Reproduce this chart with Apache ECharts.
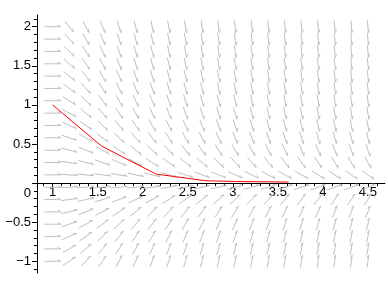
<!DOCTYPE html>
<html><head><meta charset="utf-8">
<script src="https://cdn.jsdelivr.net/npm/echarts@6/dist/echarts.min.js"></script>
<style>html,body{margin:0;padding:0;background:#fff}#c{width:388px;height:288px}</style>
</head><body><div id="c"></div>
<script>
// direction field grid
const fieldX = [1.000,1.184,1.368,1.553,1.737,1.921,2.105,2.289,2.474,2.658,2.842,3.026,3.211,3.395,3.579,3.763,3.947,4.132,4.316,4.500];
const fieldY = [-1.000,-0.842,-0.684,-0.526,-0.368,-0.211,-0.053,0.105,0.263,0.421,0.579,0.737,0.895,1.053,1.211,1.368,1.526,1.684,1.842,2.000];
// arrow angle on screen in degrees (positive = pointing up-right), one row per fieldY value
const fieldAngle = [
  [0,32,45,54,60,64,68,71,73,74,76,77,78,79,80,80,81,81,82,82],
  [0,28,40,49,55,60,64,67,70,72,73,75,76,77,78,78,79,80,80,81],
  [0,23,34,43,50,55,59,63,65,68,70,71,73,74,75,76,77,77,78,79],
  [0,18,28,36,42,48,52,56,59,62,64,66,68,69,71,72,73,74,75,75],
  [0,13,20,27,32,38,42,46,50,53,55,58,60,62,63,65,66,67,68,69],
  [0,7,12,16,20,24,27,31,34,37,40,42,45,47,49,51,52,54,55,57],
  [0,2,3,4,5,6,7,9,10,11,12,13,14,15,16,17,18,19,20,21],
  [0,-4,-6,-8,-10,-12,-14,-17,-19,-21,-22,-24,-26,-28,-30,-31,-33,-34,-36,-37],
  [0,-9,-15,-20,-24,-29,-33,-37,-40,-43,-46,-49,-51,-53,-55,-57,-58,-60,-61,-62],
  [0,-15,-23,-30,-36,-41,-46,-50,-53,-56,-59,-61,-63,-65,-66,-68,-69,-70,-71,-72],
  [0,-20,-30,-38,-45,-50,-55,-59,-62,-64,-66,-68,-70,-71,-72,-73,-74,-75,-76,-77],
  [0,-25,-36,-45,-52,-57,-61,-64,-67,-69,-71,-73,-74,-75,-76,-77,-78,-78,-79,-79],
  [0,-29,-42,-51,-57,-62,-66,-69,-71,-73,-74,-75,-77,-78,-78,-79,-80,-80,-81,-81],
  [0,-33,-46,-55,-61,-66,-69,-71,-73,-75,-76,-78,-79,-79,-80,-81,-81,-82,-82,-83],
  [0,-37,-50,-59,-64,-68,-71,-74,-76,-77,-78,-79,-80,-81,-81,-82,-82,-83,-83,-84],
  [0,-40,-54,-62,-67,-71,-73,-76,-77,-78,-79,-80,-81,-82,-82,-83,-83,-84,-84,-84],
  [0,-43,-57,-64,-69,-73,-75,-77,-78,-80,-81,-81,-82,-83,-83,-84,-84,-84,-85,-85],
  [0,-46,-59,-66,-71,-74,-76,-78,-79,-81,-81,-82,-83,-83,-84,-84,-84,-85,-85,-85],
  [0,-49,-61,-68,-73,-75,-78,-79,-80,-81,-82,-83,-83,-84,-84,-85,-85,-85,-85,-86],
  [0,-51,-63,-70,-74,-77,-79,-80,-81,-82,-83,-83,-84,-84,-85,-85,-85,-86,-86,-86]
];
// red approximate solution polyline
const solX = [1.00, 1.54, 2.15, 2.70, 3.04, 3.62];
const solY = [1.00, 0.475, 0.115, 0.030, 0.020, 0.013];
// axis ticks
const xTicks = [1, 1.5, 2, 2.5, 3, 3.5, 4, 4.5];
const yTicks = [-1, -0.5, 0, 0.5, 1, 1.5, 2];
const xMinor = [0.9,1.0,1.1,1.2,1.3,1.4,1.5,1.6,1.7,1.8,1.9,2.0,2.1,2.2,2.3,2.4,2.5,2.6,2.7,2.8,2.9,3.0,3.1,3.2,3.3,3.4,3.5,3.6,3.7,3.8,3.9,4.0,4.1,4.2,4.3,4.4,4.5,4.6];
const yMinor = [-1.1,-1.0,-0.9,-0.8,-0.7,-0.6,-0.5,-0.4,-0.3,-0.2,-0.1,0,0.1,0.2,0.3,0.4,0.5,0.6,0.7,0.8,0.9,1.0,1.1,1.2,1.3,1.4,1.5,1.6,1.7,1.8,1.9,2.0,2.1];

const X_MIN = 0.826, X_MAX = 4.69, Y_MIN = -1.15, Y_MAX = 2.15;
const CELL_DX = 0.1842, CELL_DY = 0.1579;
const FONT = '"Liberation Sans", Arial, sans-serif';
// plot box (px)
const G_LEFT = 37, G_RIGHT = 3, G_TOP = 15, G_BOTTOM = 15, H = 288;
// the horizontal axis sits at y = 0: put it at the bottom of a second grid ending there
const zeroBottom = H - (G_TOP + (H - G_TOP - G_BOTTOM) * Y_MAX / (Y_MAX - Y_MIN));

const arrowData = [];
fieldY.forEach((y, j) => fieldX.forEach((x, i) => arrowData.push([x, y, fieldAngle[j][i]])));
const solData = solX.map((x, i) => [x, solY[i]]);

const fmt = v => (v < 0 ? '\u2212' : '') + Math.abs(v);

const chart = echarts.init(document.getElementById('c'), null, {renderer: 'canvas'});
chart.setOption({
  animation: false,
  backgroundColor: '#ffffff',
  grid: [
    {left: G_LEFT, right: G_RIGHT, top: G_TOP, bottom: G_BOTTOM, containLabel: false, outerBoundsMode: 'none'},
    {left: G_LEFT, right: G_RIGHT, top: G_TOP, bottom: zeroBottom, containLabel: false, outerBoundsMode: 'none'}
  ],
  xAxis: [{
    gridIndex: 0, type: 'value', min: X_MIN, max: X_MAX, show: false
  }, {
    gridIndex: 1, type: 'value', min: X_MIN, max: X_MAX, position: 'bottom',
    axisLine: {show: true, onZero: false, lineStyle: {color: '#000', width: 1}},
    axisTick: {show: true, length: 4, customValues: xTicks, lineStyle: {color: '#000'}},
    axisLabel: {show: true, customValues: xTicks, margin: 3, color: '#000', fontSize: 13, fontFamily: FONT, formatter: fmt},
    splitLine: {show: false}
  }, {
    gridIndex: 1, type: 'value', min: X_MIN, max: X_MAX, position: 'bottom',
    axisLine: {show: false, onZero: false},
    axisTick: {show: true, length: 3, customValues: xMinor, lineStyle: {color: '#000'}},
    axisLabel: {show: false},
    splitLine: {show: false}
  }],
  yAxis: [{
    gridIndex: 0, type: 'value', min: Y_MIN, max: Y_MAX, position: 'left',
    axisLine: {show: true, onZero: false, lineStyle: {color: '#000', width: 1}},
    axisTick: {show: true, length: 5, customValues: yTicks, lineStyle: {color: '#000'}},
    axisLabel: {show: true, customValues: yTicks, margin: 6, color: '#000', fontSize: 13, fontFamily: FONT, lineHeight: 20,
      formatter: v => v === 0 ? '\n0' : fmt(v)},
    splitLine: {show: false}
  }, {
    gridIndex: 0, type: 'value', min: Y_MIN, max: Y_MAX, position: 'left',
    axisLine: {show: false, onZero: false},
    axisTick: {show: true, length: 3, customValues: yMinor, lineStyle: {color: '#000'}},
    axisLabel: {show: false},
    splitLine: {show: false}
  }, {
    gridIndex: 1, type: 'value', min: 0, max: Y_MAX, show: false
  }],
  series: [{
    type: 'custom', xAxisIndex: 0, yAxisIndex: 0, silent: true, clip: false,
    encode: {x: 0, y: 1},
    data: arrowData,
    renderItem: function (params, api) {
      const x = api.value(0), y = api.value(1), a = api.value(2) * Math.PI / 180;
      const c = api.coord([x, y]);
      const sz = api.size([CELL_DX, CELL_DY]);
      const cs = Math.cos(a), sn = -Math.sin(a);
      const L = 1 / Math.sqrt(Math.pow(cs / sz[0], 2) + Math.pow(sn / sz[1], 2));
      const h = L / 2;
      const p0 = [c[0] - cs * h, c[1] - sn * h];
      const p1 = [c[0] + cs * h, c[1] + sn * h];
      const b = 3.5, ba = 25 * Math.PI / 180;
      const rx = cs * Math.cos(ba) - sn * Math.sin(ba);
      const ry = cs * Math.sin(ba) + sn * Math.cos(ba);
      const p2 = [p1[0] - b * rx, p1[1] - b * ry];
      return {type: 'polyline', shape: {points: [p0, p1, p2]}, style: {stroke: '#c0c0c0', lineWidth: 1, fill: null}};
    }
  }, {
    type: 'line', xAxisIndex: 0, yAxisIndex: 0, data: solData, symbol: 'none', silent: true,
    lineStyle: {color: '#ff0000', width: 1}, z: 5
  }]
});
</script>
</body></html>
